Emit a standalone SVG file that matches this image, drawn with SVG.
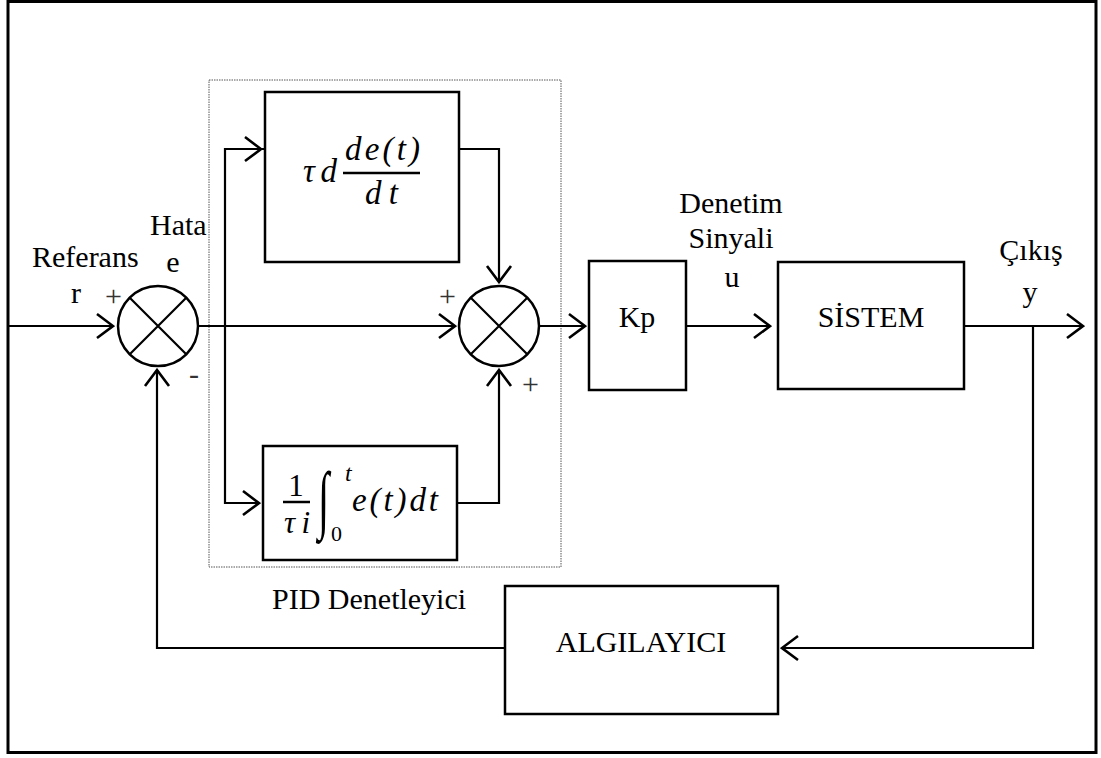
<svg xmlns="http://www.w3.org/2000/svg" width="1101" height="758" viewBox="0 0 1101 758">
<style>
.box{fill:#fff;stroke:#000;stroke-width:2.5}
.ln{fill:none;stroke:#000;stroke-width:2.2}
.t{font-family:"Liberation Serif","Times New Roman",serif;font-size:30px;fill:#000}
.m{font-family:"Liberation Serif","Times New Roman",serif;font-style:italic;fill:#000}
.mu{font-family:"Liberation Serif","Times New Roman",serif;fill:#000}
.sg{font-family:"Liberation Serif",serif;font-size:30px;fill:#333}
</style>
<defs>
<marker id="ah" markerUnits="userSpaceOnUse" viewBox="-20 -14 22 28" refX="0" refY="0" markerWidth="22" markerHeight="28" orient="auto">
<path d="M-16,-12 L0,0 L-16,12" fill="none" stroke="#000" stroke-width="2.6"/>
</marker>
</defs>
<rect x="0" y="0" width="1101" height="758" fill="#fff"/>
<rect id="frame" x="8" y="1.5" width="1088" height="751" fill="none" stroke="#000" stroke-width="3"/>

<g id="pid">
<rect x="209" y="80" width="352" height="487" fill="none" stroke="#555" stroke-width="1" stroke-dasharray="1.5,1"/>
<text class="t" x="272" y="609">PID Denetleyici</text>
</g>

<g id="sum1">
<circle cx="158" cy="326" r="40" class="box"/>
<path class="ln" d="M130,298 L186,354 M186,298 L130,354"/>
<text class="sg" x="105" y="306">+</text>
<text class="sg" x="189" y="384">-</text>
</g>

<g id="sum2">
<circle cx="499" cy="326" r="40" class="box"/>
<path class="ln" d="M471,298 L527,354 M527,298 L471,354"/>
<text class="sg" x="439" y="306">+</text>
<text class="sg" x="522" y="394">+</text>
</g>

<g id="deriv">
<rect x="265" y="92" width="194" height="170" class="box"/>
<text class="m" x="303" y="182" style="font-size:33px" textLength="34" lengthAdjust="spacing">τd</text>
<text class="m" x="345" y="160" style="font-size:33px" textLength="75" lengthAdjust="spacing">de(t)</text>
<line x1="343" y1="173" x2="420" y2="173" stroke="#000" stroke-width="2.5"/>
<text class="m" x="365" y="204" style="font-size:33px" textLength="33" lengthAdjust="spacing">dt</text>
</g>

<g id="integ">
<rect x="263" y="446" width="194" height="114" class="box"/>
<text class="mu" x="296" y="496" text-anchor="middle" style="font-size:31px">1</text>
<line x1="283" y1="502" x2="310" y2="502" stroke="#000" stroke-width="2.5"/>
<text class="m" x="284" y="533" style="font-size:31px" textLength="26" lengthAdjust="spacing">τi</text>
<text class="mu" transform="translate(318,524) scale(1.2,2.2)" style="font-size:34px">∫</text>
<text class="m" x="345" y="481" style="font-size:24px">t</text>
<text class="mu" x="331" y="541" style="font-size:22px">0</text>
<text class="m" x="352" y="511" style="font-size:33px" textLength="86" lengthAdjust="spacing">e(t)dt</text>
</g>

<g id="kp">
<rect x="589" y="261" width="97" height="129" class="box"/>
<text class="t" x="637" y="327" text-anchor="middle">Kp</text>
</g>

<g id="sistem">
<rect x="778" y="262" width="186" height="127" class="box"/>
<text class="t" x="871" y="327" text-anchor="middle">SİSTEM</text>
</g>

<g id="algilayici">
<rect x="505" y="586" width="273" height="128" class="box"/>
<text class="t" x="641" y="652" text-anchor="middle">ALGILAYICI</text>
</g>

<g id="labels">
<text class="t" x="32" y="267">Referans</text>
<text class="t" x="76" y="303" text-anchor="middle">r</text>
<text class="t" x="150" y="235">Hata</text>
<text class="t" x="173" y="272" text-anchor="middle">e</text>
<text class="t" x="731" y="213" text-anchor="middle">Denetim</text>
<text class="t" x="731" y="248" text-anchor="middle">Sinyali</text>
<text class="t" x="732" y="287" text-anchor="middle">u</text>
<text class="t" x="1031" y="260" text-anchor="middle">Çıkış</text>
<text class="t" x="1030" y="302" text-anchor="middle">y</text>
</g>

<g id="connectors">
<path class="ln" d="M8,326 L113,326" marker-end="url(#ah)"/>
<path class="ln" d="M198,326 L455,326" marker-end="url(#ah)"/>
<path class="ln" d="M265,149 L225,149 L225,503 L259,503" marker-end="url(#ah)"/>
<path class="ln" d="M225,149 L261,149" marker-end="url(#ah)"/>
<path class="ln" d="M459,149 L499,149 L499,282" marker-end="url(#ah)"/>
<path class="ln" d="M457,503 L499,503 L499,370" marker-end="url(#ah)"/>
<path class="ln" d="M539,326 L585,326" marker-end="url(#ah)"/>
<path class="ln" d="M686,326 L770,326" marker-end="url(#ah)"/>
<path class="ln" d="M964,326 L1083,326" marker-end="url(#ah)"/>
<path class="ln" d="M1033,326 L1033,648 L782,648" marker-end="url(#ah)"/>
<path class="ln" d="M505,648 L157,648 L157,370" marker-end="url(#ah)"/>
</g>
</svg>
